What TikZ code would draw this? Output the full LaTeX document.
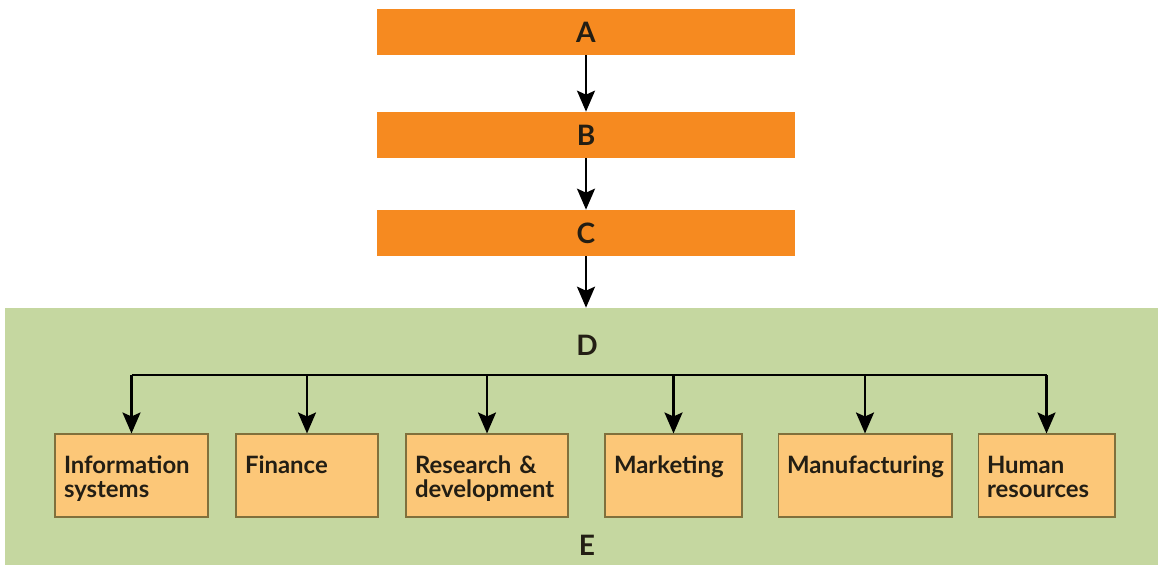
\documentclass[tikz,border=0pt]{standalone}
\usepackage{fontspec}
\setmainfont{Lato}
\usetikzlibrary{arrows.meta}
\definecolor{barorange}{RGB}{246,138,32}
\definecolor{panelgreen}{RGB}{197,215,160}
\definecolor{deptfill}{RGB}{252,199,120}
\definecolor{deptline}{RGB}{128,112,60}
\definecolor{ink}{RGB}{35,30,20}
\tikzset{
  bar/.style={fill=barorange, minimum width=8.36cm, minimum height=0.92cm, inner sep=0pt,
    font=\bfseries\fontsize{16}{18}\selectfont, text=ink},
  lbl/.style={font=\bfseries\fontsize{16}{18}\selectfont, text=ink},
  dept/.style={draw=deptline, line width=0.6pt, fill=deptfill, minimum height=1.66cm,
    inner xsep=0.18cm, inner ysep=0pt, text height=0.78cm, text depth=0.88cm, align=left,
    font=\bfseries\fontsize{13.6}{13.7}\selectfont, text=ink},
  flow/.style={line width=1.3pt, -{Stealth[length=0.42cm,width=0.36cm,inset=0.08cm]}}
}
\begin{document}
\begin{tikzpicture}[x=0.02cm,y=-0.02cm]
  \useasboundingbox (0,0) rectangle (1158,565);
  \node[fill=panelgreen, minimum width=23.06cm, minimum height=5.14cm, inner sep=0pt] (panel) at (581.5,436.5) {};
  \node[bar] (A) at (586,32) {A};
  \node[bar] (B) at (586,135) {B};
  \node[bar] (C) at (586,233) {C};
  \draw[flow] (A) -- (B);
  \draw[flow] (B) -- (C);
  \draw[flow] (C) -- (C |- panel.north);

  \node[lbl] (D) at (587,345) {D};
  \node[lbl] (E) at (587,545) {E};

  \node[dept, text width=2.7cm] (is) at (131.5,475.5) {Information\\systems};
  \node[dept, text width=2.48cm] (fin) at (307,475.5) {Finance};
  \node[dept, text width=2.88cm] (rd) at (487,475.5) {Research \&\\development};
  \node[dept, text width=2.38cm] (mkt) at (673.5,475.5) {Marketing};
  \node[dept, text width=3.12cm] (mfg) at (865,475.5) {Manufacturing};
  \node[dept, text width=2.38cm] (hr) at (1046.5,475.5) {Human\\resources};

  \coordinate (bus) at (0,375);
  \draw[line width=1.3pt] (is.north |- bus) -- (hr.north |- bus);
  \foreach \d in {is,fin,rd,mkt,mfg,hr}
    \draw[flow] (\d.north |- bus) -- (\d.north);
\end{tikzpicture}
\end{document}
